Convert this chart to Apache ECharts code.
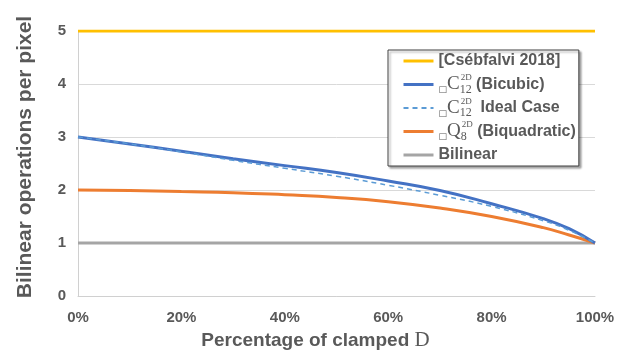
<!DOCTYPE html>
<html>
<head>
<meta charset="utf-8">
<script src="https://cdn.jsdelivr.net/npm/echarts@6/dist/echarts.min.js"></script>
<style>
html,body{margin:0;padding:0;background:#fff;}
#chart{width:638px;height:356px;}
</style>
</head>
<body>
<div id="chart"></div>
<script>
// Percentage of clamped D (x positions)
const pct = [0, 10, 20, 30, 40, 50, 60, 70, 80, 90, 95, 100];
// Bilinear operations per pixel
const csebfalvi = [5, 5, 5, 5, 5, 5, 5, 5, 5, 5, 5, 5];
const bicubic   = [3.00, 2.87, 2.73, 2.59, 2.46, 2.33, 2.17, 1.99, 1.74, 1.46, 1.27, 1.00];
const ideal     = [3.00, 2.87, 2.72, 2.56, 2.41, 2.26, 2.09, 1.90, 1.69, 1.42, 1.24, 1.00];
const biquad    = [2.00, 1.99, 1.97, 1.95, 1.91, 1.86, 1.78, 1.66, 1.50, 1.29, 1.15, 1.00];
const bilinear  = [1, 1, 1, 1, 1, 1, 1, 1, 1, 1, 1, 1];
const xTicks = [0, 20, 40, 60, 80, 100];
const yTicks = [0, 1, 2, 3, 4, 5];

const seriesNames = ['Csebfalvi', 'C12', 'C12ideal', 'Q8', 'Bilinear'];
const legendText = {
  Csebfalvi: '{t|[Csébfalvi 2018]}',
  C12: '{sq|□}{m|C}{sub|12}{sup|2D}{t| (Bicubic)}',
  C12ideal: '{sq|□}{m|C}{sub|12}{sup|2D}{t|  Ideal Case}',
  Q8: '{sq|□}{m|Q}{sub|8}{sup|2D}{t| (Biquadratic)}',
  Bilinear: '{t|Bilinear}'
};

const pair = arr => pct.map((p, i) => [p, arr[i]]);
const grey = '#595959';
const sans = '"Liberation Sans", Arial, sans-serif';
const serif = '"Liberation Serif", "Times New Roman", serif';

const chart = echarts.init(document.getElementById('chart'));
chart.setOption({
  animation: false,
  backgroundColor: '#ffffff',
  grid: { left: 78, right: 43, top: 31, bottom: 60 },
  xAxis: {
    type: 'value', min: 0, max: 100, interval: 20,
    axisLine: { show: true, lineStyle: { color: '#D0D0D0', width: 1 } },
    axisTick: { show: false },
    splitLine: { show: false },
    axisLabel: { formatter: v => xTicks.includes(v) ? v + '%' : '', color: grey, fontWeight: 'bold', fontSize: 15, fontFamily: sans, margin: 14 },
    name: '{a|Percentage of clamped }{d|D}',
    nameLocation: 'middle', nameGap: 34,
    nameTextStyle: {
      padding: [0, 42, 0, 0],
      rich: {
        a: { color: grey, fontWeight: 'bold', fontSize: 19, fontFamily: sans },
        d: { color: grey, fontSize: 21, fontFamily: serif }
      }
    }
  },
  yAxis: {
    type: 'value', min: 0, max: 5, interval: 1,
    axisLine: { show: true, lineStyle: { color: '#D0D0D0', width: 1 } },
    axisTick: { show: false },
    splitLine: { show: true, lineStyle: { color: '#D9D9D9', width: 1 } },
    axisLabel: { formatter: v => yTicks.includes(v) ? String(v) : '', color: grey, fontWeight: 'bold', fontSize: 15, fontFamily: sans, margin: 12 },
    name: 'Bilinear operations per pixel',
    nameLocation: 'middle', nameGap: 42,
    nameTextStyle: { color: grey, fontWeight: 'bold', fontSize: 21, fontFamily: sans, padding: [0, 0, 0, 13] }
  },
  legend: {
    orient: 'vertical',
    left: 388, top: 50,
    data: [
      { name: seriesNames[0], lineStyle: { width: 3 } },
      { name: seriesNames[1], lineStyle: { width: 3 } },
      { name: seriesNames[2], lineStyle: { width: 2 } },
      { name: seriesNames[3], lineStyle: { width: 3 } },
      { name: seriesNames[4], lineStyle: { width: 3 } }
    ],
    itemWidth: 30, itemHeight: 14, itemGap: 1.5,
    padding: [0, 3, 0, 14],
    backgroundColor: '#ffffff',
    borderColor: '#404040', borderWidth: 1,
    shadowColor: 'rgba(0,0,0,0.35)', shadowBlur: 2, shadowOffsetX: 2, shadowOffsetY: 2,
    itemStyle: { opacity: 0 },
    formatter: name => legendText[name],
    textStyle: {
      color: grey, lineHeight: 22,
      rich: {
        t: { color: grey, fontWeight: 'bold', fontSize: 16, fontFamily: sans, lineHeight: 22 },
        sq: { color: grey, fontSize: 9, fontFamily: '"DejaVu Sans", sans-serif', verticalAlign: 'bottom', lineHeight: 22, padding: [0, 0, 1, 0] },
        m: { color: grey, fontSize: 19, fontFamily: serif, lineHeight: 22 },
        sub: { color: grey, fontSize: 12, fontFamily: serif, verticalAlign: 'bottom', lineHeight: 22, width: 1 },
        sup: { color: grey, fontSize: 9, fontFamily: serif, verticalAlign: 'top', lineHeight: 22 }
      }
    }
  },
  series: [
    { name: 'Csebfalvi', type: 'line', data: pair(csebfalvi), symbol: 'none', lineStyle: { color: '#FFC000', width: 3 }, itemStyle: { color: '#FFC000' }, z: 3 },
    { name: 'C12', type: 'line', data: pair(bicubic), smooth: true, symbol: 'none', lineStyle: { color: '#4472C4', width: 3 }, itemStyle: { color: '#4472C4' }, z: 4 },
    { name: 'C12ideal', type: 'line', data: pair(ideal), smooth: true, symbol: 'none', lineStyle: { color: '#5B9BD5', width: 1.5, type: [5, 4] }, itemStyle: { color: '#5B9BD5' }, z: 5 },
    { name: 'Q8', type: 'line', data: pair(biquad), smooth: true, symbol: 'none', lineStyle: { color: '#ED7D31', width: 3 }, itemStyle: { color: '#ED7D31' }, z: 3 },
    { name: 'Bilinear', type: 'line', data: pair(bilinear), symbol: 'none', lineStyle: { color: '#A5A5A5', width: 3 }, itemStyle: { color: '#A5A5A5' }, z: 2 }
  ]
});
</script>
</body>
</html>
